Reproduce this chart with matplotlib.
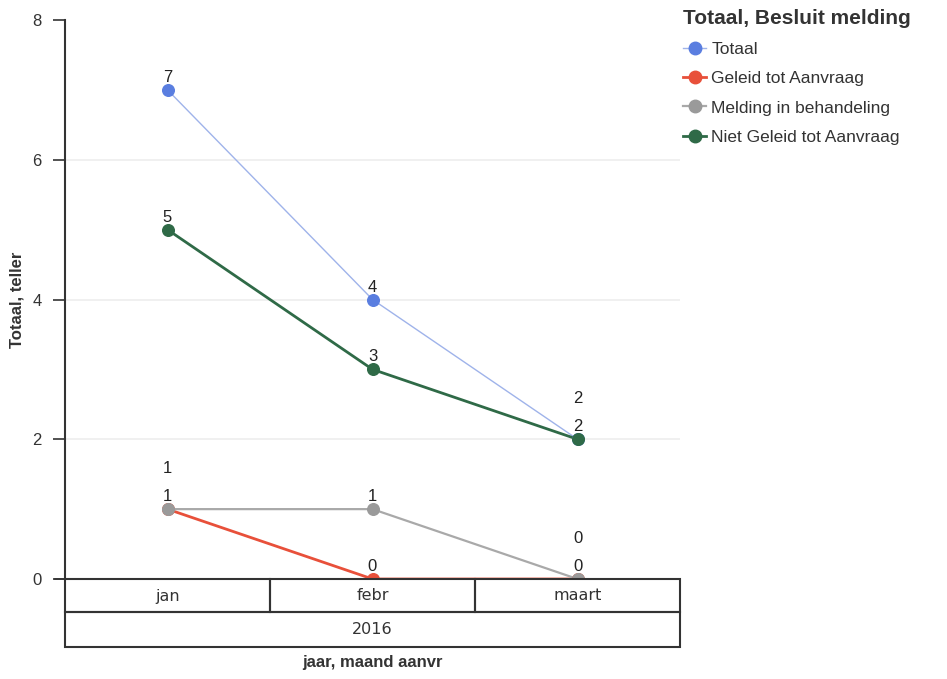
import matplotlib.pyplot as plt
from matplotlib.patches import Rectangle

plt.rcParams['font.family'] = ['Liberation Sans', 'DejaVu Sans']

months = ["jan", "febr", "maart"]
year = "2016"
series_names = ["Totaal", "Geleid tot Aanvraag", "Melding in behandeling", "Niet Geleid tot Aanvraag"]
totaal = [7, 4, 2]
geleid = [1, 0, 0]
in_behandeling = [1, 1, 0]
niet_geleid = [5, 3, 2]

colors = ["#5a7ee0", "#e8503a", "#9a9a9a", "#2f6a47"]
line_colors = ["#9fb3ea", "#e8503a", "#a9a9a9", "#2f6a47"]
widths = [1.0, 2.0, 1.6, 2.0]

W, H = 947, 679
fig = plt.figure(figsize=(W / 100, H / 100), dpi=100)
ax = fig.add_axes([65 / W, 1 - 579 / H, 615 / W, 559 / H])
tab = fig.add_axes([65 / W, 1 - 647 / H, 615 / W, 68 / H])

x = list(range(len(months)))
all_series = [totaal, geleid, in_behandeling, niet_geleid]
handles = []
placed = {}
for name, vals, c, lc, lw in zip(series_names, all_series, colors, line_colors, widths):
    ax.plot(x, vals, color=lc, lw=lw, zorder=3)
    ax.scatter(x, vals, color=c, s=70, zorder=4)
    h, = ax.plot([], [], color=lc, lw=lw, marker='o', markersize=9,
                 markerfacecolor=c, markeredgecolor=c, label=name)
    handles.append(h)
    for xi, v in zip(x, vals):
        k = (xi, v)
        n = placed.get(k, 0)
        placed[k] = n + 1
        ax.annotate(str(v), (xi, v), xytext=(0, 9 + 20 * n), textcoords='offset points',
                    ha='center', va='center', fontsize=12, color='#222222', zorder=5)

ax.set_xlim(-0.5, len(months) - 0.5)
ax.set_ylim(0, 8)
ax.set_yticks([0, 2, 4, 6, 8])
ax.tick_params(axis='y', labelsize=12, length=9, width=1.2, color='#333333',
               labelcolor='#333333', pad=8)
ax.set_xticks([])
for yv in [2, 4, 6]:
    ax.axhline(yv, color='#eeeeee', lw=1.2, zorder=1)
for s in ['top', 'right']:
    ax.spines[s].set_visible(False)
ax.spines['left'].set_linewidth(1.5)
ax.spines['left'].set_color('#333333')
ax.spines['bottom'].set_visible(False)
ax.set_ylabel("Totaal, teller", fontsize=12, fontweight='bold', color='#333333')
ax.yaxis.set_label_coords(-0.066, 0.5)

# category table below the plot
tab.set_xlim(-0.5, len(months) - 0.5)
tab.set_ylim(0, 2)
tab.axis('off')
for i, m in enumerate(months):
    tab.add_patch(Rectangle((i - 0.5, 1.03), 1, 0.97, fill=False, lw=1.5, ec='#333333', clip_on=False))
    tab.text(i, 1.5, m, ha='center', va='center', fontsize=11.5, family='DejaVu Sans', color='#333333')
tab.add_patch(Rectangle((-0.5, 0), len(months), 1.03, fill=False, lw=1.5, ec='#333333', clip_on=False))
tab.text((len(months) - 1) / 2, 0.5, year, ha='center', va='center', fontsize=11.5,
         family='DejaVu Sans', color='#333333')
tab.plot([-0.5 - 10 * 3 / 615, -0.5], [2, 2], color='#333333', lw=1.2, clip_on=False)

fig.text(372 / W, 1 - 662 / H, "jaar, maand aanvr", ha='center', va='center',
         fontsize=12, fontweight='bold', color='#333333')

leg = fig.legend(handles=handles, loc='upper left', bbox_to_anchor=(673 / W, 1 + 1 / H),
                 frameon=False, fontsize=12.5, handlelength=1.3, handletextpad=0.3,
                 labelspacing=0.8, borderpad=0.1, title="Totaal, Besluit melding",
                 title_fontproperties={'weight': 'bold', 'size': 15})
leg._legend_box.align = 'left'
for t in leg.get_texts():
    t.set_color('#333333')
leg.get_title().set_color('#333333')

fig.savefig("out.png", dpi=100)
